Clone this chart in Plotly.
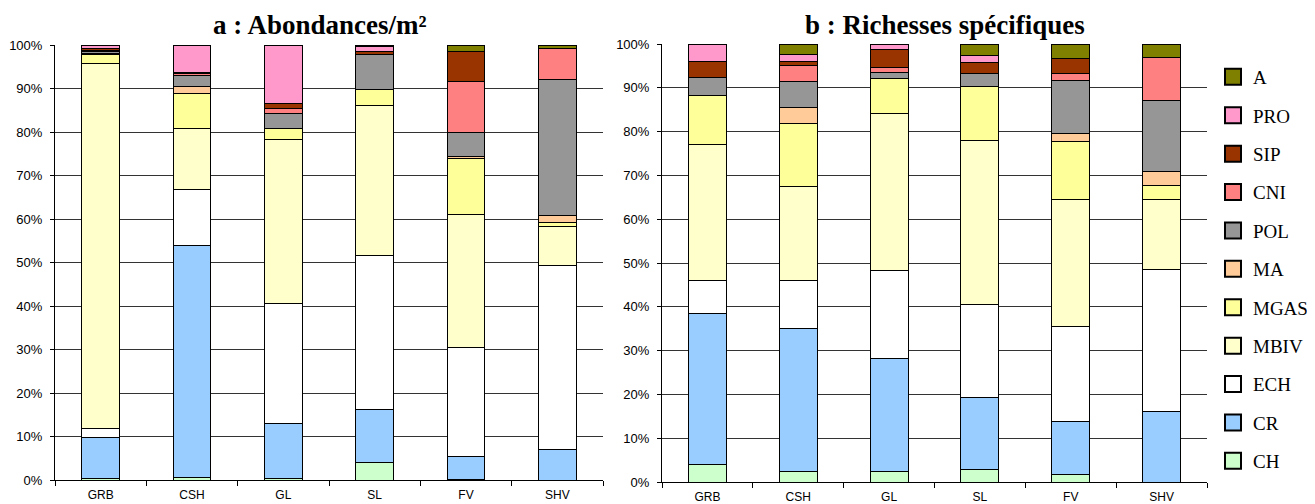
import plotly.graph_objects as go

# page has an 8px body margin: the figure is drawn 8px right/down from the page corner
OFF = 8
W, H = 1315 - OFF, 504 - OFF

sites = ["GRB", "CSH", "GL", "SL", "FV", "SHV"]
groups = ["CH", "CR", "ECH", "MBIV", "MGAS", "MA", "POL", "CNI", "SIP", "PRO", "A"]
colors = {
    "A": "#808000", "PRO": "#FF99CC", "SIP": "#993300", "CNI": "#FF8080",
    "POL": "#969696", "MA": "#FFCC99", "MGAS": "#FFFF99", "MBIV": "#FFFFCC",
    "ECH": "#FFFFFF", "CR": "#99CCFF", "CH": "#CCFFCC",
}

# a : Abondances/m² (% per site)
ab_CH = [0.3, 0.5, 0.3, 4.0, 0.2, 0.0]
ab_CR = [9.4, 53.5, 12.6, 12.2, 5.2, 7.1]
ab_ECH = [2.1, 12.7, 27.6, 35.3, 25.1, 42.1]
ab_MBIV = [84.0, 14.1, 37.7, 34.7, 30.5, 9.0]
ab_MGAS = [2.1, 8.0, 2.6, 3.5, 12.8, 1.1]
ab_MA = [0.1, 1.7, 0.0, 0.1, 0.6, 1.6]
ab_POL = [0.4, 2.4, 3.4, 8.0, 5.5, 31.1]
ab_CNI = [0.3, 0.5, 1.1, 0.1, 11.7, 7.1]
ab_SIP = [0.5, 0.3, 1.3, 0.6, 6.9, 0.0]
ab_PRO = [0.8, 6.1, 13.4, 1.1, 0.0, 0.0]
ab_A = [0.0, 0.2, 0.0, 0.4, 1.5, 0.9]

# b : Richesses spécifiques (% per site)
ri_CH = [4.0, 2.3, 2.5, 2.8, 1.8, 0.0]
ri_CR = [34.4, 32.7, 25.7, 16.6, 11.9, 16.2]
ri_ECH = [7.7, 10.9, 20.0, 21.1, 21.9, 32.3]
ri_MBIV = [30.9, 21.5, 35.9, 37.4, 28.9, 16.0]
ri_MGAS = [11.3, 14.5, 8.0, 12.5, 13.3, 3.1]
ri_MA = [0.0, 3.6, 0.0, 0.0, 1.8, 3.4]
ri_POL = [4.0, 6.0, 1.4, 2.9, 12.0, 16.2]
ri_CNI = [0.0, 3.6, 1.2, 0.0, 1.7, 9.7]
ri_SIP = [3.7, 1.0, 4.1, 2.5, 3.3, 0.0]
ri_PRO = [4.0, 1.5, 1.2, 1.5, 0.0, 0.0]
ri_A = [0.0, 2.4, 0.0, 2.7, 3.4, 3.1]

ab = {"CH": ab_CH, "CR": ab_CR, "ECH": ab_ECH, "MBIV": ab_MBIV, "MGAS": ab_MGAS,
      "MA": ab_MA, "POL": ab_POL, "CNI": ab_CNI, "SIP": ab_SIP, "PRO": ab_PRO, "A": ab_A}
ri = {"CH": ri_CH, "CR": ri_CR, "ECH": ri_ECH, "MBIV": ri_MBIV, "MGAS": ri_MGAS,
      "MA": ri_MA, "POL": ri_POL, "CNI": ri_CNI, "SIP": ri_SIP, "PRO": ri_PRO, "A": ri_A}

fig = go.Figure()
for g in groups:
    fig.add_trace(go.Bar(x=sites, y=ab[g], name=g, marker=dict(color=colors[g], line=dict(color="black", width=1)),
                         width=0.41, showlegend=False, xaxis="x", yaxis="y"))
for g in groups:
    fig.add_trace(go.Bar(x=sites, y=ri[g], name=g, marker=dict(color=colors[g], line=dict(color="black", width=1)),
                         width=0.42, showlegend=False, xaxis="x2", yaxis="y2"))

# legend entries (A on top)
for i, g in enumerate(reversed(groups)):
    fig.add_trace(go.Scatter(x=[None], y=[None], mode="markers", name=g, legendgroup="g%d" % i,
                             marker=dict(symbol="square", size=16, color=colors[g], line=dict(color="black", width=2)),
                             xaxis="x2", yaxis="y2"))

# page-pixel helpers
def px(v):
    return (v - OFF) / W

def py(v):
    return 1 - (v - OFF) / H

tickfont = dict(family="Liberation Sans, Arial", size=12, color="black")
ytickfont = dict(family="Liberation Sans, Arial", size=13, color="black")
common_x = dict(type="category", showgrid=False, showline=True, linecolor="black", linewidth=1,
                ticks="outside", ticklen=5, tickcolor="black", tickson="boundaries", tickfont=tickfont,
                ticklabelstandoff=4, zeroline=False, fixedrange=True, automargin=False)
common_y = dict(range=[0, 100], dtick=10, ticksuffix="%", showgrid=True, gridcolor="#333333", gridwidth=1,
                showline=True, linecolor="black", linewidth=1, ticks="outside", ticklen=4, tickcolor="black",
                tickfont=ytickfont, ticklabelstandoff=5, zeroline=False, fixedrange=True, automargin=False)

titlefont = dict(family="Liberation Serif, Times New Roman", size=27, color="black")

fig.update_layout(
    width=W, height=H,
    margin=dict(l=0, r=0, t=0, b=0, autoexpand=False),
    paper_bgcolor="white", plot_bgcolor="white",
    barmode="stack",
    xaxis=dict(domain=[px(55), px(603)], anchor="y", **common_x),
    yaxis=dict(domain=[py(480), py(45)], anchor="x", **common_y),
    xaxis2=dict(domain=[px(662), px(1207)], anchor="y2", **common_x),
    yaxis2=dict(domain=[py(482), py(44)], anchor="x2", **common_y),
    legend=dict(x=px(1213), xanchor="left", y=py(58), yanchor="top", traceorder="grouped",
                tracegroupgap=10.7, font=dict(family="Liberation Serif, Times New Roman", size=19, color="black"),
                bgcolor="rgba(0,0,0,0)", itemclick=False, itemdoubleclick=False),
    annotations=[
        dict(text="<b>a : Abondances/m²</b>", x=px(320), y=py(25), xref="paper", yref="paper",
             xanchor="center", yanchor="middle", showarrow=False, font=titlefont),
        dict(text="<b>b : Richesses spécifiques</b>", x=px(945), y=py(25), xref="paper", yref="paper",
             xanchor="center", yanchor="middle", showarrow=False, font=titlefont),
    ],
)

fig.write_html("out.html")
